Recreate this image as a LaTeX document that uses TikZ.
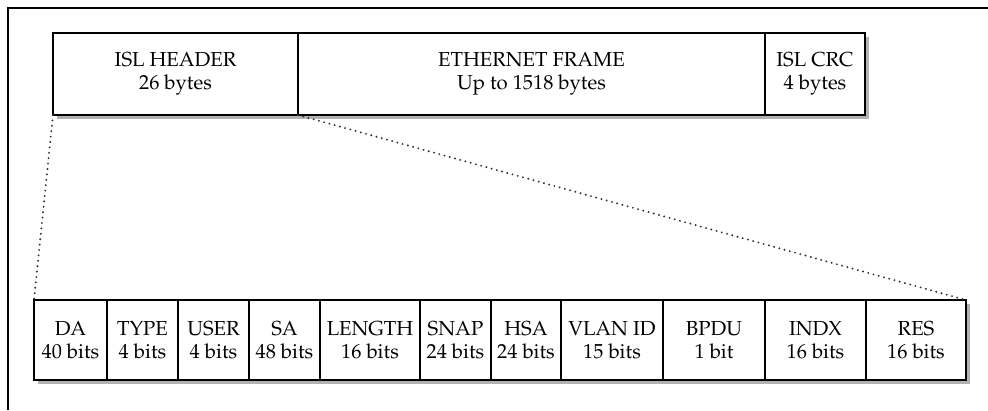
\documentclass[tikz,border=0pt]{standalone}
\usepackage[T1]{fontenc}
\usepackage{mathpazo}
\usetikzlibrary{positioning, backgrounds, calc}

\begin{document}
\begin{tikzpicture}[x=0.7pt, y=-0.7pt,
  field/.style={rectangle, draw=black, line width=1.3pt, fill=white,
                minimum width=#1*0.7pt, minimum height=80*0.7pt,
                inner sep=0pt, outer sep=0pt, align=center,
                font=\fontsize{14.2}{16.2}\selectfont},
  topfield/.style={field=#1, minimum height=82*0.7pt},
  zoomline/.style={line width=1.5pt, line cap=round, dash pattern=on 0pt off 3.8pt, black!80},
  shadow/.style={fill=black!30}
]
\useasboundingbox (0,0) rectangle (988,410);

% frame
\draw[line width=2pt] (988,8) -- (8,8) -- (8,410);

% ISL frame
\node[topfield=245, anchor=north west] (hdr) at (53,33) {ISL HEADER\\26 bytes};
\node[topfield=467, right=0pt of hdr] (eth) {ETHERNET FRAME\\Up to 1518 bytes};
\node[topfield=100, right=0pt of eth] (crc) {ISL CRC\\4 bytes};

% header fields
\node[field=73, anchor=north west] (da) at (34,300) {DA\\40 bits};
\node[field=71, right=0pt of da] (type) {TYPE\\4 bits};
\node[field=71, right=0pt of type] (user) {USER\\4 bits};
\node[field=71, right=0pt of user] (sa) {SA\\48 bits};
\node[field=100, right=0pt of sa] (len) {LENGTH\\16 bits};
\node[field=71, right=0pt of len] (snap) {SNAP\\24 bits};
\node[field=70, right=0pt of snap] (hsa) {HSA\\24 bits};
\node[field=102, right=0pt of hsa] (vlan) {VLAN ID\\15 bits};
\node[field=102, right=0pt of vlan] (bpdu) {BPDU\\1 bit};
\node[field=101, right=0pt of bpdu] (indx) {INDX\\16 bits};
\node[field=100, right=0pt of indx] (res) {RES\\16 bits};

\begin{scope}[on background layer]
  \fill[shadow] ($(hdr.north west)+(4,4)$) rectangle ($(crc.south east)+(4,4)$);
  \fill[shadow] ($(da.north west)+(4,4)$) rectangle ($(res.south east)+(4,4)$);
\end{scope}

\draw[zoomline] (hdr.south west) -- (da.north west);
\draw[zoomline] (hdr.south east) -- (res.north east);
\end{tikzpicture}
\end{document}
